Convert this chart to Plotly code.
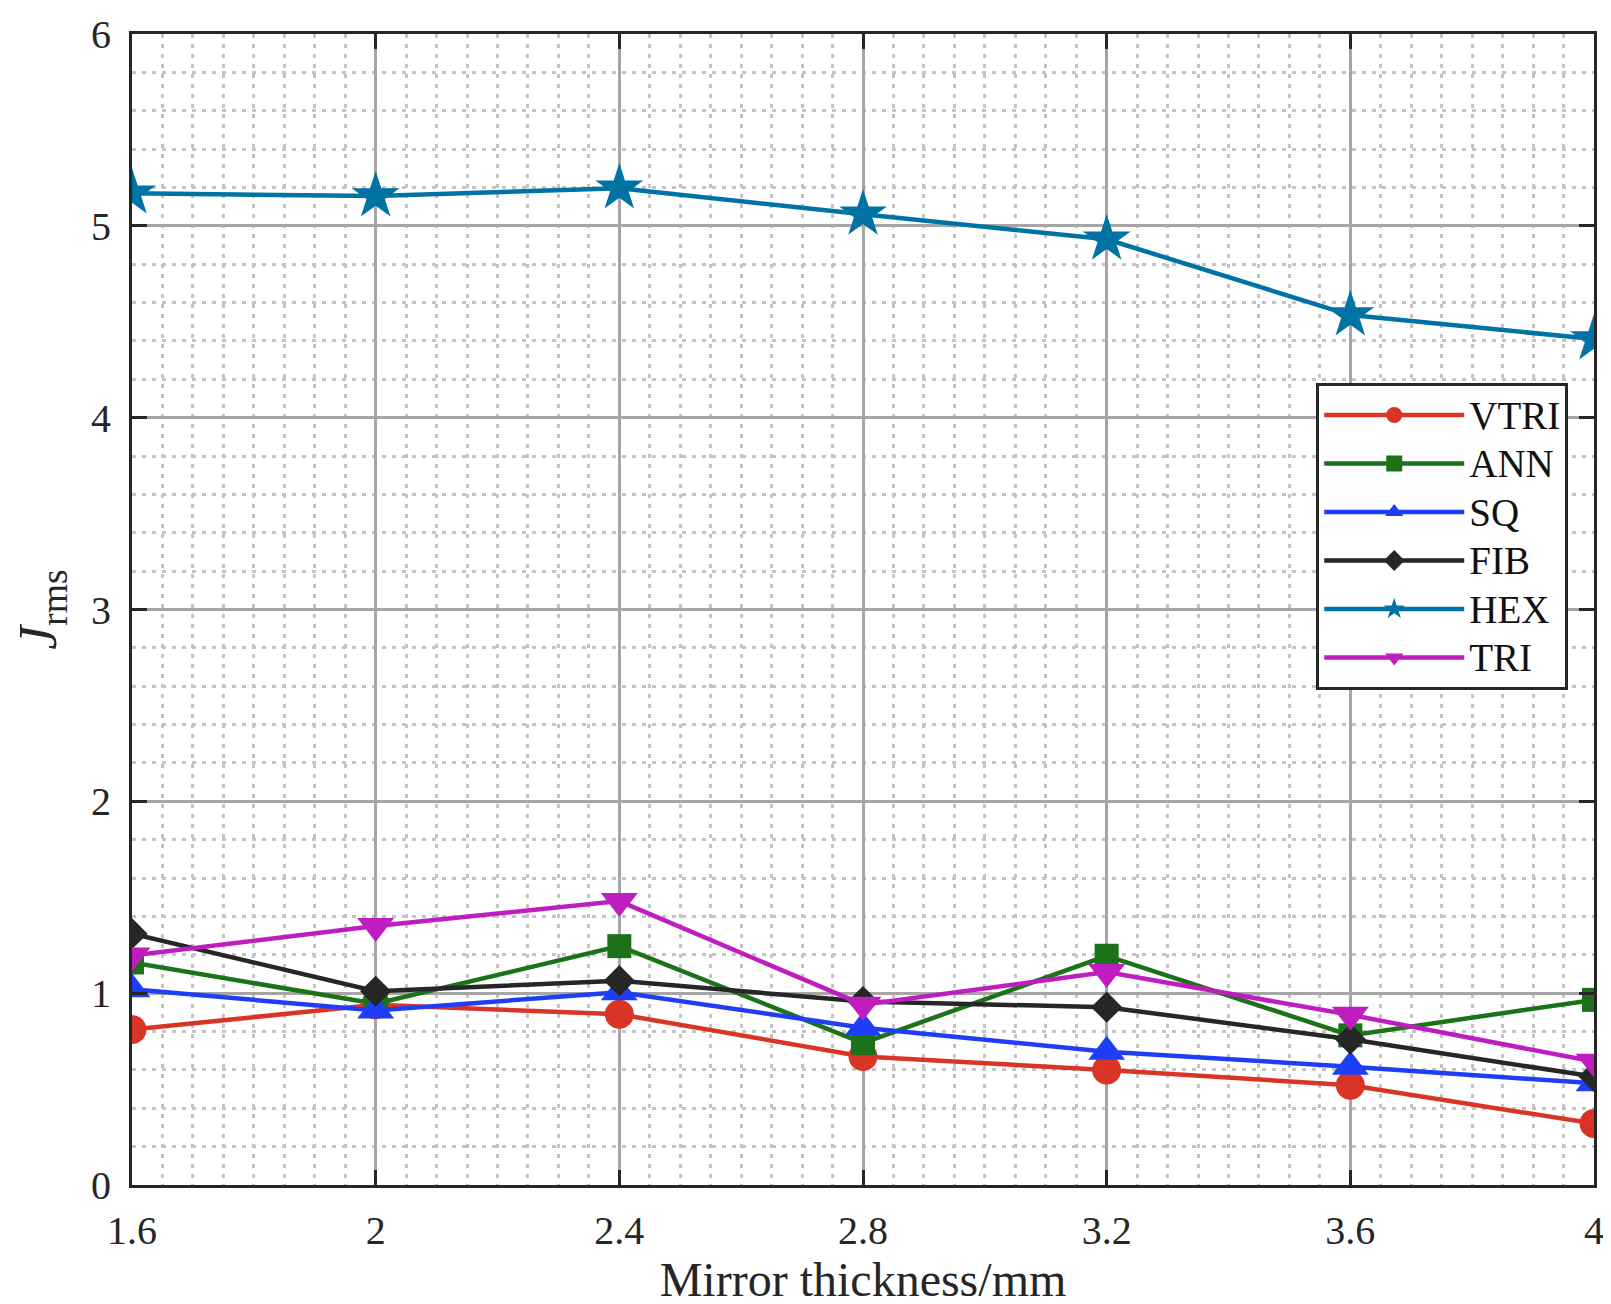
import plotly.graph_objects as go

# mirror thickness (mm)
thickness = [1.6, 2.0, 2.4, 2.8, 3.2, 3.6, 4.0]

# J_rms for each layout
vtri = [0.81, 0.94, 0.89, 0.67, 0.60, 0.52, 0.32]
ann = [1.16, 0.945, 1.245, 0.74, 1.195, 0.78, 0.965]
sq = [1.02, 0.91, 1.005, 0.82, 0.695, 0.617, 0.53]
fib = [1.31, 1.01, 1.065, 0.956, 0.927, 0.76, 0.565]
hex_ = [5.17, 5.155, 5.196, 5.06, 4.93, 4.535, 4.41]
tri = [1.196, 1.35, 1.48, 0.94, 1.11, 0.887, 0.643]

x_ticks = [1.6, 2.0, 2.4, 2.8, 3.2, 3.6, 4.0]
x_ticktext = ["1.6", "2", "2.4", "2.8", "3.2", "3.6", "4"]
y_ticks = [0, 1, 2, 3, 4, 5, 6]

series = [
    ("VTRI", vtri, "#D93425", "circle", 29),
    ("ANN", ann, "#1B7218", "square", 24),
    ("SQ", sq, "#1E3EF5", "triangle-up", 32),
    ("FIB", fib, "#262626", "diamond", 24),
    ("HEX", hex_, "#0072A3", "star", 36),
    ("TRI", tri, "#BF1DC0", "triangle-down", 32),
]

AXIS = "#262626"
FONT = "Liberation Serif"

fig = go.Figure()
for name, y, color, symbol, size in series:
    # bigger legend text than the row pitch plotly would give it
    label = f'<span style="font-size:39px">{name}</span>'
    fig.add_trace(go.Scatter(
        x=thickness, y=y, name=label, mode="lines+markers",
        line=dict(color=color, width=4.5),
        marker=dict(symbol=symbol, size=size, color=color, line=dict(width=0)),
    ))

axis_common = dict(
    showline=True, linecolor=AXIS, linewidth=3, mirror="ticks",
    ticks="inside", ticklen=15, tickwidth=3, tickcolor=AXIS,
    showgrid=True, gridcolor="#A6A6A6", gridwidth=3,
    zeroline=False, automargin=False,
    tickfont=dict(family=FONT, size=40, color="#262626"),
    title_font=dict(family=FONT, size=48, color="#262626"),
)

fig.update_xaxes(
    range=[1.6, 4.0], tickvals=x_ticks, ticktext=x_ticktext,
    title_text="Mirror thickness/mm", title_standoff=0,
    ticklabelstandoff=8,
    minor=dict(dtick=0.05, tick0=1.6, showgrid=True, gridcolor="#C4C4C4",
               gridwidth=3, griddash="4px,6px", ticks=""),
    **axis_common,
)
fig.update_yaxes(
    range=[0, 6], tickvals=y_ticks,
    title_text="<i>J</i><sub>rms</sub>", title_standoff=20,
    ticklabelstandoff=10,
    minor=dict(dtick=0.2, tick0=0, showgrid=True, gridcolor="#C4C4C4",
               gridwidth=3, griddash="4px,6px", ticks=""),
    **axis_common,
)
fig.update_yaxes(title_font_size=54)

fig.update_layout(
    width=1611, height=1304,
    margin=dict(l=124, r=25, t=26, b=127),
    paper_bgcolor="white", plot_bgcolor="white",
    font=dict(family=FONT, color="#262626"),
    legend=dict(
        x=0.81, y=0.697, xanchor="left", yanchor="top",
        bgcolor="white", bordercolor=AXIS, borderwidth=3,
        font=dict(family=FONT, size=35, color="#111111"),
        itemwidth=140, tracegroupgap=0,
    ),
    showlegend=True,
)

fig.write_html("out.html")
